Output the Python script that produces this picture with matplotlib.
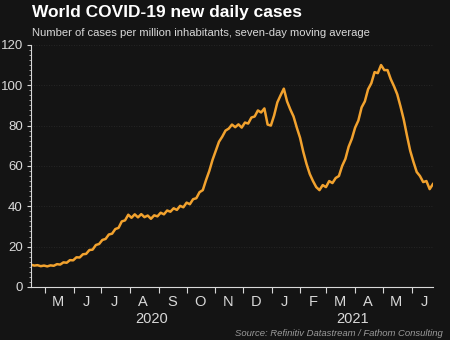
import pandas as pd
import matplotlib
matplotlib.use("Agg")
import matplotlib.pyplot as plt
import matplotlib.dates as mdates
from matplotlib.ticker import MultipleLocator, NullFormatter
import matplotlib.transforms as mtransforms

plt.rcParams["font.family"] = ["Liberation Sans", "DejaVu Sans"]

# world new cases per million, 7-day average, sampled twice a week
dates = pd.date_range("2020-04-16", periods=125, freq="84h")
cases = [
    11.0, 10.6, 10.8, 10.3, 10.6, 10.2, 10.7, 10.5, 11.3, 11.1,
    12.2, 12.0, 13.3, 13.2, 14.7, 14.6, 16.2, 16.4, 18.3, 18.5,
    20.8, 21.3, 23.3, 23.8, 26.0, 26.4, 28.7, 29.3, 32.5, 33.0,
    35.8, 34.3, 36.0, 34.5, 36.1, 34.6, 35.4, 33.8, 35.5, 35.0,
    36.8, 36.0, 37.9, 37.3, 39.0, 38.2, 40.2, 39.5, 41.8, 41.0,
    43.5, 44.0, 47.0, 48.0, 53.0, 57.5, 63.0, 67.5, 72.0, 74.5,
    77.5, 78.5, 80.5, 79.2, 80.6, 79.0, 81.5, 81.0, 84.0, 84.5,
    87.5, 86.5, 88.5, 80.5, 80.0, 85.0, 91.5, 95.0, 98.3, 92.0,
    88.0, 84.5, 79.0, 74.0, 67.0, 61.0, 56.0, 52.5, 49.5, 48.0,
    50.5, 49.5, 52.5, 51.5, 54.0, 55.0, 60.0, 63.5, 69.5, 73.5,
    79.0, 82.5, 89.0, 92.0, 98.0, 101.0, 106.5, 106.0, 110.0, 107.5,
    107.5, 103.0, 99.5, 95.5, 89.5, 83.0, 75.0, 67.5, 62.0, 57.0,
    55.0, 52.0, 52.5, 48.5, 51.0,
]
years = ["2020", "2021"]

bg = "#141414"
fg = "#d9d9d9"
orange = "#f2a22e"

fig = plt.figure(figsize=(4.5, 3.4), dpi=100, facecolor=bg)
ax = fig.add_axes([0.069, 0.156, 0.893, 0.712], facecolor=bg)

ax.plot(dates, cases, color=orange, linewidth=1.8, solid_joinstyle="round")

ax.set_xlim(dates[0], dates[-1])
ax.set_ylim(0, 120)

# y axis
ax.yaxis.set_major_locator(MultipleLocator(20))
ax.yaxis.set_minor_locator(MultipleLocator(2.5))
ax.grid(axis="y", color="#2c2c2c", linestyle=(0, (1, 2)), linewidth=0.6)

# x axis: ticks at month starts, letters mid-month
def first_letter(x, pos=None):
    return mdates.num2date(x).strftime("%b")[0]

ax.xaxis.set_major_locator(mdates.MonthLocator())
ax.xaxis.set_major_formatter(NullFormatter())
ax.xaxis.set_minor_locator(mdates.MonthLocator(bymonthday=15))
ax.xaxis.set_minor_formatter(plt.FuncFormatter(first_letter))

ax.tick_params(axis="x", which="major", length=4, width=0.8, color=fg)
ax.tick_params(axis="x", which="minor", length=0, pad=6, labelsize=10.5, labelcolor=fg)
ax.tick_params(axis="y", which="major", length=3, width=0.8, color=fg,
               labelsize=9.5, labelcolor=fg, pad=3)
ax.tick_params(axis="y", which="minor", length=1.5, width=0.5, color=fg)

for side in ["top", "right"]:
    ax.spines[side].set_visible(False)
for side in ["left", "bottom"]:
    ax.spines[side].set_color(fg)
    ax.spines[side].set_linewidth(0.8)

# year labels centred on each year's span
trans = mtransforms.blended_transform_factory(ax.transData, ax.transAxes)
split = mdates.date2num(pd.Timestamp("2021-01-01"))
x0 = mdates.date2num(dates[0])
x1 = mdates.date2num(dates[-1])
for name, (a, b) in zip(years, [(x0, split), (split, x1)]):
    ax.text((a + b) / 2, -0.105, name, transform=trans, ha="center", va="top",
            color=fg, fontsize=10.5)

fig.text(0.071, 0.962, "World COVID-19 new daily cases", color="white",
         fontsize=12.5, fontweight="bold", ha="left", va="center")
fig.text(0.071, 0.903, "Number of cases per million inhabitants, seven-day moving average",
         color=fg, fontsize=8.1, ha="left", va="center")
fig.text(0.984, 0.02, "Source: Refinitiv Datastream / Fathom Consulting",
         color="#9a9a9a", fontsize=6.8, style="italic", ha="right", va="center")

fig.savefig("out.png", dpi=100, facecolor=bg)
